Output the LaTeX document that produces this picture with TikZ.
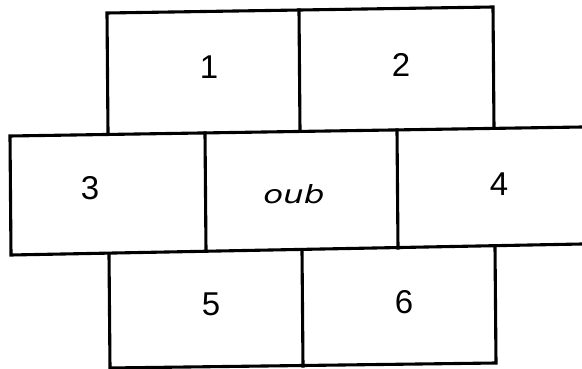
\documentclass[tikz,border=0pt]{standalone}
\usepackage{fontspec}
\setmainfont{Liberation Sans}
\newfontfamily\handfont{DejaVu Sans}
\begin{document}
\begin{tikzpicture}[x=1pt,y=-1pt,
  edge/.style={line width=3.1pt,line cap=rect,line join=miter},
  digit/.style={font=\fontsize{33}{33}\selectfont,inner sep=0pt},
  hand/.style={font=\handfont\itshape\fontsize{25}{25}\selectfont,inner sep=0pt,xscale=1.3}]
\useasboundingbox (0,0) rectangle (582,369);
% top row
\draw[edge] (108,133) -- (107,13) -- (493,7) -- (494,128);
\draw[edge] (299,10) -- (300,131);
% middle row
\draw[edge] (582,127) -- (10,136) -- (11,255) -- (582,244);
\draw[edge] (205,133) -- (206,251);
\draw[edge] (397,130) -- (398,248);
% bottom row
\draw[edge] (109,254) -- (110,368) -- (496,363) -- (495,246);
\draw[edge] (302,250) -- (303,366);
% labels
\node[digit] (n1) at (209,67) {1};
\node[digit] (n2) at (401,65) {2};
\node[digit] (n3) at (90,188) {3};
\node[digit] (n4) at (499,184) {4};
\node[digit] (n5) at (211,304) {5};
\node[digit] (n6) at (404,302) {6};
\node[hand] (c) at (294,194) {oub};
\end{tikzpicture}
\end{document}
